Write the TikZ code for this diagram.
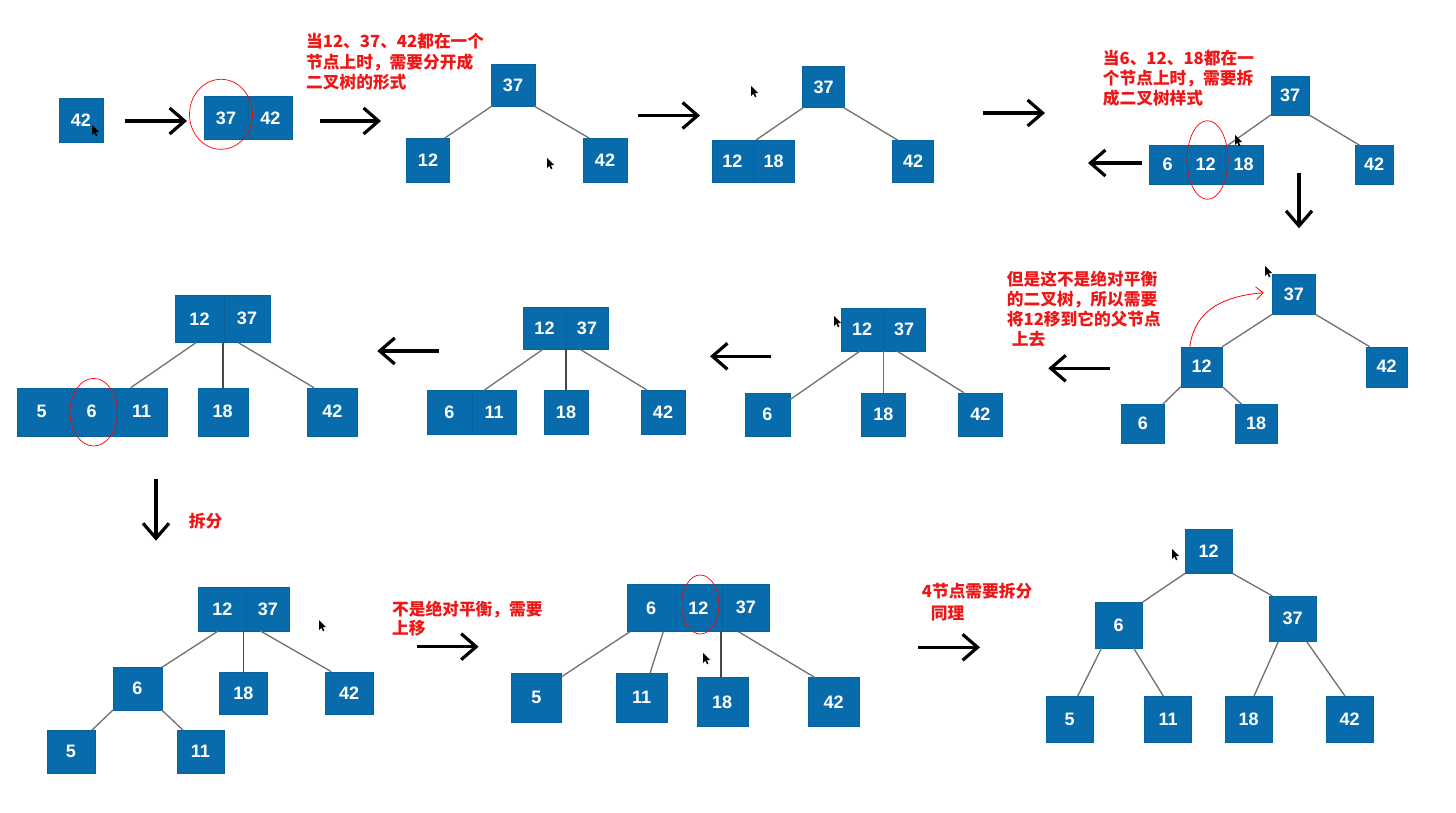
\documentclass[tikz,border=0pt]{standalone}
\usepackage{fontspec}
\newfontfamily\numf{Liberation Sans}
\newfontfamily\cjk{Noto Sans CJK SC}
\usetikzlibrary{arrows.meta}
\definecolor{nodeblue}{RGB}{8,108,172}
\definecolor{edgegray}{RGB}{112,112,112}
\definecolor{anno}{RGB}{238,22,22}
\begin{document}
\begin{tikzpicture}[x=1pt,y=-1pt,
  bx/.style={fill=nodeblue, draw=nodeblue!92!black, line width=0.35pt, text=white,
    font=\numf\bfseries\fontsize{18}{18}\selectfont, inner sep=0pt, outer sep=0pt},
  wh/.style 2 args={minimum width=#1pt, minimum height=#2pt},
  edge/.style={draw=edgegray, line width=1.3pt},
  vedge/.style={draw=black!72, line width=1.7pt},
  bigarrow/.style={draw=black, line width=3.2pt, -{Straight Barb[length=15pt,width=26pt]}},
  annot/.style={text=anno, font=\cjk\bfseries\fontsize{16.7}{20}\selectfont, inner sep=0pt, anchor=base west},
  ring/.style={draw=red, line width=0.7pt},
  cursor/.pic={\fill[black] (0,0) -- (0,10) -- (2.4,7.8) -- (4,11.3) -- (5.4,10.6) -- (3.9,7.2) -- (7,7) -- cycle;}
]
\useasboundingbox (0,0) rectangle (1456,813);
\fill[white] (0,0) rectangle (1456,813);

% ---------- Row 1 ----------
\node[bx, wh={44}{44}] (a42) at (81,120) {42};

\node[bx, wh={44.3}{43.3}] (b37) at (226,118) {37};
\node[bx, wh={44.3}{43.3}] (b42) at (270.3,118) {42};
\draw[ring] (221,114.3) ellipse [x radius=31.5pt, y radius=35pt];

\node[annot] (t1a) at (306,48) {当12、37、42都在一个};
\node[annot] (t1b) at (306,68.5) {节点上时，需要分开成};
\node[annot] (t1c) at (306,89) {二叉树的形式};

\node[bx, wh={44}{42}] (c37) at (513,85) {37};
\node[bx, wh={43}{43.5}] (c12) at (428,160) {12};
\node[bx, wh={44}{44}] (c42) at (605,160) {42};
\draw[edge] ([xshift=1pt]c37.south west) -- ([xshift=-5pt]c12.north east);
\draw[edge] ([xshift=-1pt]c37.south east) -- ([xshift=6pt]c42.north west);

\node[bx, wh={42}{41}] (d37) at (823.5,87) {37};
\node[bx, wh={41.3}{42}] (d12) at (732.4,161) {12};
\node[bx, wh={41.3}{42}] (d18) at (773.7,161) {18};
\node[bx, wh={41}{42}] (d42) at (913,161) {42};
\draw[edge] ([xshift=1pt]d37.south west) -- ([xshift=3pt]d18.north west);
\draw[edge] ([xshift=-1pt]d37.south east) -- ([xshift=5pt]d42.north west);

\node[annot] (t2a) at (1102.7,65) {当6、12、18都在一};
\node[annot] (t2b) at (1102.7,85) {个节点上时，需要拆};
\node[annot] (t2c) at (1102.7,105) {成二叉树样式};

\node[bx, wh={38.5}{39}] (e37) at (1290,95.5) {37};
\node[bx, wh={38}{38.7}] (e6) at (1167.7,164.7) {6};
\node[bx, wh={38}{38.7}] (e12) at (1205.7,164.7) {12};
\node[bx, wh={38}{38.7}] (e18) at (1243.7,164.7) {18};
\node[bx, wh={38.6}{38.7}] (e42) at (1374,164.7) {42};
\draw[edge] (e37.south west) -- ([xshift=3pt]e18.north west);
\draw[edge] (e37.south east) -- ([xshift=5pt]e42.north west);
\draw[ring] (1207.5,160) ellipse [x radius=20.5pt, y radius=39.3pt];

% row 1 arrows
\coordinate (p1s) at (125,121); \coordinate (p1e) at (187,121);
\coordinate (p2s) at (320,121); \coordinate (p2e) at (381,121);
\coordinate (p3s) at (638,115.5); \coordinate (p3e) at (700,115.5);
\coordinate (p4s) at (983,113); \coordinate (p4e) at (1045,113);
\coordinate (p5s) at (1142,163); \coordinate (p5e) at (1088,163);
\coordinate (p6s) at (1299,172.7); \coordinate (p6e) at (1299,228.3);
\draw[bigarrow] (p1s) -- (p1e);
\draw[bigarrow] (p2s) -- (p2e);
\draw[bigarrow] (p3s) -- (p3e);
\draw[bigarrow] (p4s) -- (p4e);
\draw[bigarrow] (p5s) -- (p5e);
\draw[bigarrow] (p6s) -- (p6e);

% ---------- Row 2 ----------
\node[bx, wh={42.3}{39.7}] (f37) at (1293.8,294.2) {37};
\node[bx, wh={41.6}{40}] (f12) at (1201.5,366.7) {12};
\node[bx, wh={41.6}{40}] (f42) at (1386.5,366.7) {42};
\node[bx, wh={42.3}{39.3}] (f6) at (1142.8,423.7) {6};
\node[bx, wh={42.3}{39.3}] (f18) at (1256.2,423.7) {18};
\draw[edge] (f37.south west) -- (f12.north east);
\draw[edge] (f37.south east) -- ([xshift=4pt]f42.north west);
\draw[edge] (f12.south west) -- ([xshift=-1pt]f6.north east);
\draw[edge] (f12.south east) -- ([xshift=6.5pt]f18.north west);
\draw[red, line width=0.8pt, -{Straight Barb[length=7pt,width=13pt]}]
  ([xshift=9pt]f12.north west) .. controls (1194,318) and (1212,297) .. ([xshift=-9pt,yshift=1.5pt]f37.west);

\node[annot] (t3a) at (1006.7,285) {但是这不是绝对平衡};
\node[annot] (t3b) at (1006.7,305) {的二叉树，所以需要};
\node[annot] (t3c) at (1006.7,325) {将12移到它的父节点};
\node[annot] (t3d) at (1011.7,345) {上去};

\node[bx, wh={42}{42.7}] (g12) at (862,329.7) {12};
\node[bx, wh={42}{42.7}] (g37) at (904,329.7) {37};
\node[bx, wh={45}{43.3}] (g6) at (767.4,414.4) {6};
\node[bx, wh={44}{43.3}] (g18) at (883.3,414.4) {18};
\node[bx, wh={44}{43.3}] (g42) at (980.4,414.4) {42};
\draw[edge] ([xshift=-2pt]g12.south) -- ([yshift=-7pt]g6.north east);
\draw[edge, line width=1pt] (g18.north |- g12.south) -- (g18.north);
\draw[edge] ([xshift=14pt]g37.south west) -- ([xshift=5.6pt]g42.north west);

\node[bx, wh={42.5}{42.6}] (h12) at (544.5,328) {12};
\node[bx, wh={42.5}{42.6}] (h37) at (587,328) {37};
\node[bx, wh={44.9}{44}] (h6) at (449.3,412) {6};
\node[bx, wh={44.9}{44}] (h11) at (494.2,412) {11};
\node[bx, wh={44.5}{44}] (h18) at (566,412) {18};
\node[bx, wh={44.5}{44}] (h42) at (663,412) {42};
\draw[edge] ([xshift=-1.5pt]h12.south) -- ([xshift=12.7pt]h11.north west);
\draw[vedge] (h18.north |- h12.south) -- (h18.north);
\draw[edge] ([xshift=14.3pt]h37.south west) -- ([xshift=6.2pt]h42.north west);

\node[bx, wh={49}{47.7}] (i12) at (199.5,318.8) {12};
\node[bx, wh={46}{47.7}] (i37) at (247,318.8) {37};
\node[bx, wh={50}{48}] (i5) at (41.7,411.7) {5};
\node[bx, wh={50}{48}] (i6) at (91.7,411.7) {6};
\node[bx, wh={50}{48}] (i11) at (141.7,411.7) {11};
\node[bx, wh={50}{48}] (i18) at (222.7,411.7) {18};
\node[bx, wh={50}{48}] (i42) at (332.3,411.7) {42};
\draw[edge] ([xshift=-3.5pt]i12.south) -- ([xshift=14pt]i11.north west);
\draw[vedge] (i18.north |- i12.south) -- (i18.north);
\draw[edge] ([xshift=14.3pt]i37.south west) -- ([xshift=6.7pt]i42.north west);
\draw[ring] (93.7,412.2) ellipse [x radius=23.7pt, y radius=33.8pt];

% row 2 arrows
\coordinate (q1s) at (1110,368.3); \coordinate (q1e) at (1048.3,368.3);
\coordinate (q2s) at (771.4,356.3); \coordinate (q2e) at (710,356.3);
\coordinate (q3s) at (438.8,351); \coordinate (q3e) at (377.3,351);
\coordinate (q4s) at (156,479.3); \coordinate (q4e) at (156,540.7);
\draw[bigarrow] (q1s) -- (q1e);
\draw[bigarrow] (q2s) -- (q2e);
\draw[bigarrow] (q3s) -- (q3e);
\draw[bigarrow] (q4s) -- (q4e);
\node[annot] (t4) at (188.6,527) {拆分};

% ---------- Row 3 ----------
\node[bx, wh={48}{43.4}] (j12) at (222.3,609) {12};
\node[bx, wh={43}{43.4}] (j37) at (267.8,609) {37};
\node[bx, wh={48.9}{42.7}] (j6) at (137.4,688.7) {6};
\node[bx, wh={48.2}{42.6}] (j18) at (243.4,693) {18};
\node[bx, wh={48.2}{42.6}] (j42) at (349.1,693) {42};
\node[bx, wh={48.2}{43.3}] (j5) at (70.9,751.7) {5};
\node[bx, wh={47.1}{43.3}] (j11) at (200.4,751.7) {11};
\draw[edge] ([xshift=-3.7pt]j12.south) -- (j6.north east);
\draw[vedge] (j18.north |- j12.south) -- (j18.north);
\draw[edge] ([xshift=13.6pt]j37.south west) -- ([xshift=6.4pt]j42.north west);
\draw[edge] (j6.south west) -- ([xshift=-3pt]j5.north east);
\draw[edge] (j6.south east) -- ([xshift=6pt]j11.north west);

\node[annot] (t5a) at (392,615) {不是绝对平衡，需要};
\node[annot] (t5b) at (392,634.5) {上移};

\node[bx, wh={47.4}{47.7}] (k6) at (651,607.8) {6};
\node[bx, wh={47.4}{47.7}] (k12) at (698.4,607.8) {12};
\node[bx, wh={47.4}{47.7}] (k37) at (745.8,607.8) {37};
\node[bx, wh={50.7}{49}] (k5) at (536.3,697.8) {5};
\node[bx, wh={51.3}{49}] (k11) at (641.7,697.8) {11};
\node[bx, wh={51}{48.3}] (k18) at (722.2,701.8) {18};
\node[bx, wh={50.7}{48.3}] (k42) at (833.7,701.8) {42};
\draw[edge] ([xshift=2.7pt]k6.south west) -- ([yshift=-3.4pt]k5.north east);
\draw[edge] ([xshift=-11.4pt]k6.south east) -- ([xshift=8.3pt]k11.north);
\draw[vedge] ([xshift=-1.5pt]k18.north |- k12.south) -- ([xshift=-1.5pt]k18.north);
\draw[edge] ([xshift=16.3pt]k37.south west) -- ([xshift=6.7pt]k42.north west);
\draw[ring] (700.3,604.5) ellipse [x radius=18.7pt, y radius=29.5pt];

\node[annot] (t6a) at (921.7,597) {4节点需要拆分};
\node[annot] (t6b) at (930.7,619) {同理};

\node[bx, wh={47.3}{44.3}] (l12) at (1208.7,551.2) {12};
\node[bx, wh={47.3}{45.4}] (l6) at (1118.7,625) {6};
\node[bx, wh={47}{45.7}] (l37) at (1292.5,618.8) {37};
\node[bx, wh={47.3}{46.3}] (l5) at (1069.7,719.2) {5};
\node[bx, wh={47.3}{46.3}] (l11) at (1168,719.2) {11};
\node[bx, wh={47.3}{46.3}] (l18) at (1248.7,719.2) {18};
\node[bx, wh={47.3}{46.3}] (l42) at (1349.5,719.2) {42};
\draw[edge] (l12.south west) -- (l6.north east);
\draw[edge] (l12.south east) -- ([xshift=3.3pt]l37.north west);
\draw[edge] ([xshift=6.7pt]l6.south west) -- ([xshift=8pt]l5.north);
\draw[edge] ([xshift=-9pt]l6.south east) -- ([xshift=-4.7pt]l11.north);
\draw[edge] ([xshift=9.3pt]l37.south west) -- ([xshift=5.3pt]l18.north);
\draw[edge] ([xshift=-9.3pt]l37.south east) -- ([xshift=-4.5pt]l42.north);

% row 3 arrows
\coordinate (r1s) at (417,646.7); \coordinate (r1e) at (478.6,646.7);
\coordinate (r2s) at (918.3,647.3); \coordinate (r2e) at (980,647.3);
\draw[bigarrow] (r1s) -- (r1e);
\draw[bigarrow] (r2s) -- (r2e);

% mouse pointers
\pic at (92,125) {cursor};
\pic at (547,158) {cursor};
\pic at (751,86) {cursor};
\pic at (1235,135) {cursor};
\pic at (1265,266) {cursor};
\pic at (834,316) {cursor};
\pic at (319,620) {cursor};
\pic at (703,653) {cursor};
\pic at (1172,549) {cursor};
\end{tikzpicture}
\end{document}
